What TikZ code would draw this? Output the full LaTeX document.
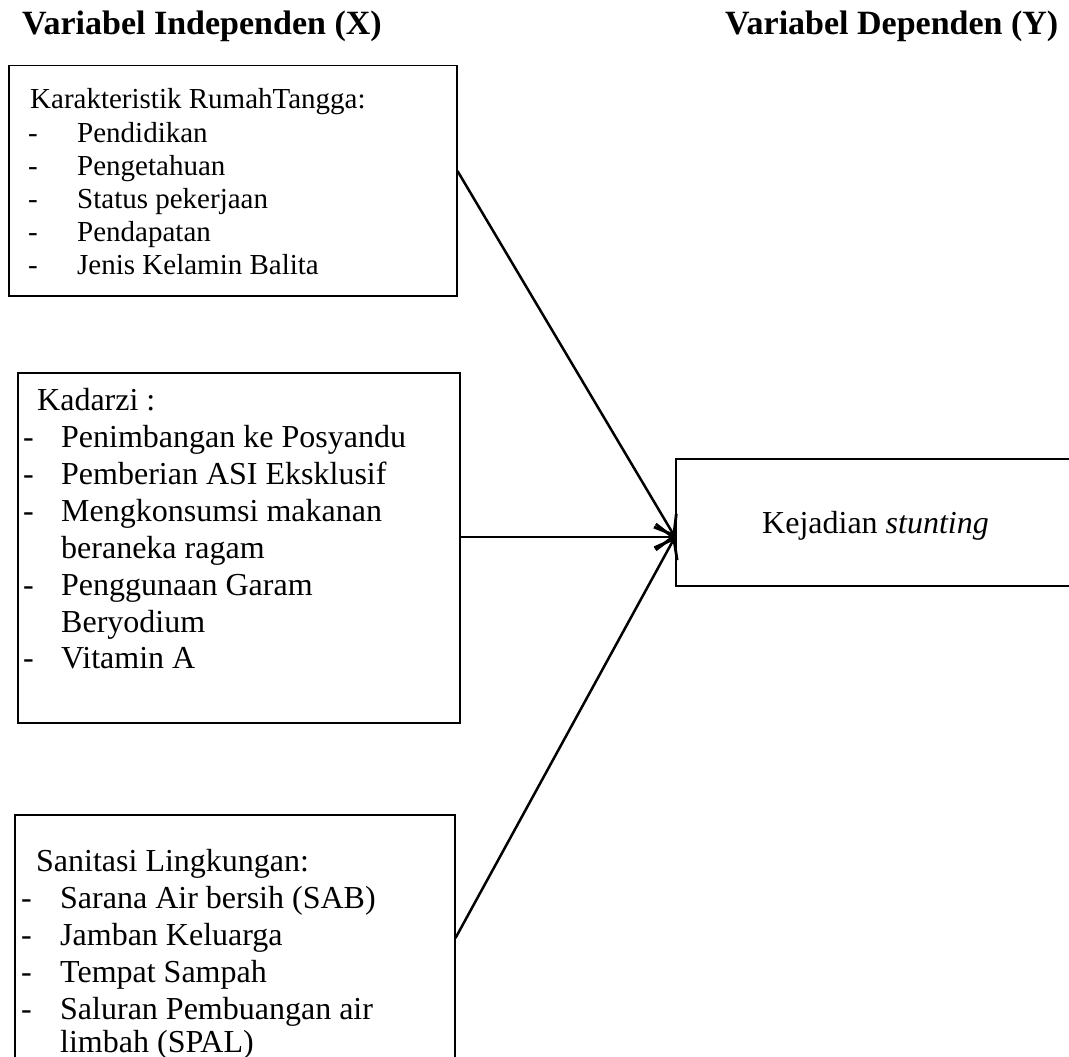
\documentclass[tikz,border=0pt]{standalone}
\usepackage{fontspec}
\setmainfont{Liberation Serif}
\usetikzlibrary{arrows.meta,calc}
\begin{document}
\begin{tikzpicture}[x=1pt,y=-1pt,
  box/.style={draw, line width=1.5pt, rectangle, anchor=north west, inner sep=0pt},
  hdr/.style={anchor=base west, inner sep=0pt, font=\fontsize{34}{40}\selectfont\bfseries},
  txtA/.style={anchor=base west, inner sep=0pt, font=\fontsize{29}{33}\selectfont},
  txtB/.style={anchor=base west, inner sep=0pt, font=\fontsize{32}{37}\selectfont},
  link/.style={line width=2.5pt, -{Straight Barb[length=17pt,width=26pt,line width=2.8pt]}}
]
\useasboundingbox (0,0) rectangle (1069,1057);
\begin{scope}
\clip (0,0) rectangle (1069,1057);

% column headings
\node[hdr] (hx) at (22,35) {Variabel Independen (X)};
\node[hdr] (hy) at (725,35) {Variabel Dependen (Y)};

% boxes
\node[box, minimum width=448pt, minimum height=230pt] (b1) at (8,65) {};
\node[box, minimum width=442pt, minimum height=350pt] (b2) at (17,372) {};
\node[box, minimum width=440pt, minimum height=270pt] (b3) at (14,814) {};
\node[box, minimum width=420pt, minimum height=127pt] (kej) at (675,458) {};

% household characteristics
\node[txtA] (b1t) at (30,109) {Karakteristik RumahTangga:};
\foreach \y/\t [count=\i] in {142/Pendidikan, 175/Pengetahuan, 208/Status pekerjaan,
    241/Pendapatan, 274/Jenis Kelamin Balita} {
  \node[txtA] (b1d\i) at (28,\y) {-};
  \node[txtA] (b1i\i) at (77,\y) {\t};
}

% Kadarzi
\node[txtB] (b2t) at (37,410) {Kadarzi :};
\foreach \y [count=\i] in {447,484,521,595,668} {
  \node[txtB] (b2d\i) at (23,\y) {-};
}
\foreach \y/\t [count=\i] in {447/Penimbangan ke Posyandu, 484/Pemberian ASI Eksklusif,
    521/Mengkonsumsi makanan, 558/beraneka ragam, 595/Penggunaan Garam,
    632/Beryodium, 668/Vitamin A} {
  \node[txtB] (b2i\i) at (61,\y) {\t};
}

% environmental sanitation
\node[txtB] (b3t) at (36,871) {Sanitasi Lingkungan:};
\foreach \y [count=\i] in {908,945,982,1019} {
  \node[txtB] (b3d\i) at (21,\y) {-};
}
\foreach \y/\t [count=\i] in {908/Sarana Air bersih (SAB), 945/Jamban Keluarga,
    982/Tempat Sampah, 1019/Saluran Pembuangan air, 1052/limbah (SPAL)} {
  \node[txtB] (b3i\i) at (60,\y) {\t};
}

% outcome
\node[txtB] (kt) at (762,533) {Kejadian \textit{stunting}};

% connectors
\draw[link] ($(b1.north east)+(0,106)$) -- ($(kej.north west)+(0,79)$);
\draw[link] ($(b2.north east)+(0,165)$) -- ($(kej.north west)+(0,79)$);
\draw[link] ($(b3.north east)+(0,124)$) -- ($(kej.north west)+(0,79)$);
\end{scope}
\end{tikzpicture}
\end{document}
